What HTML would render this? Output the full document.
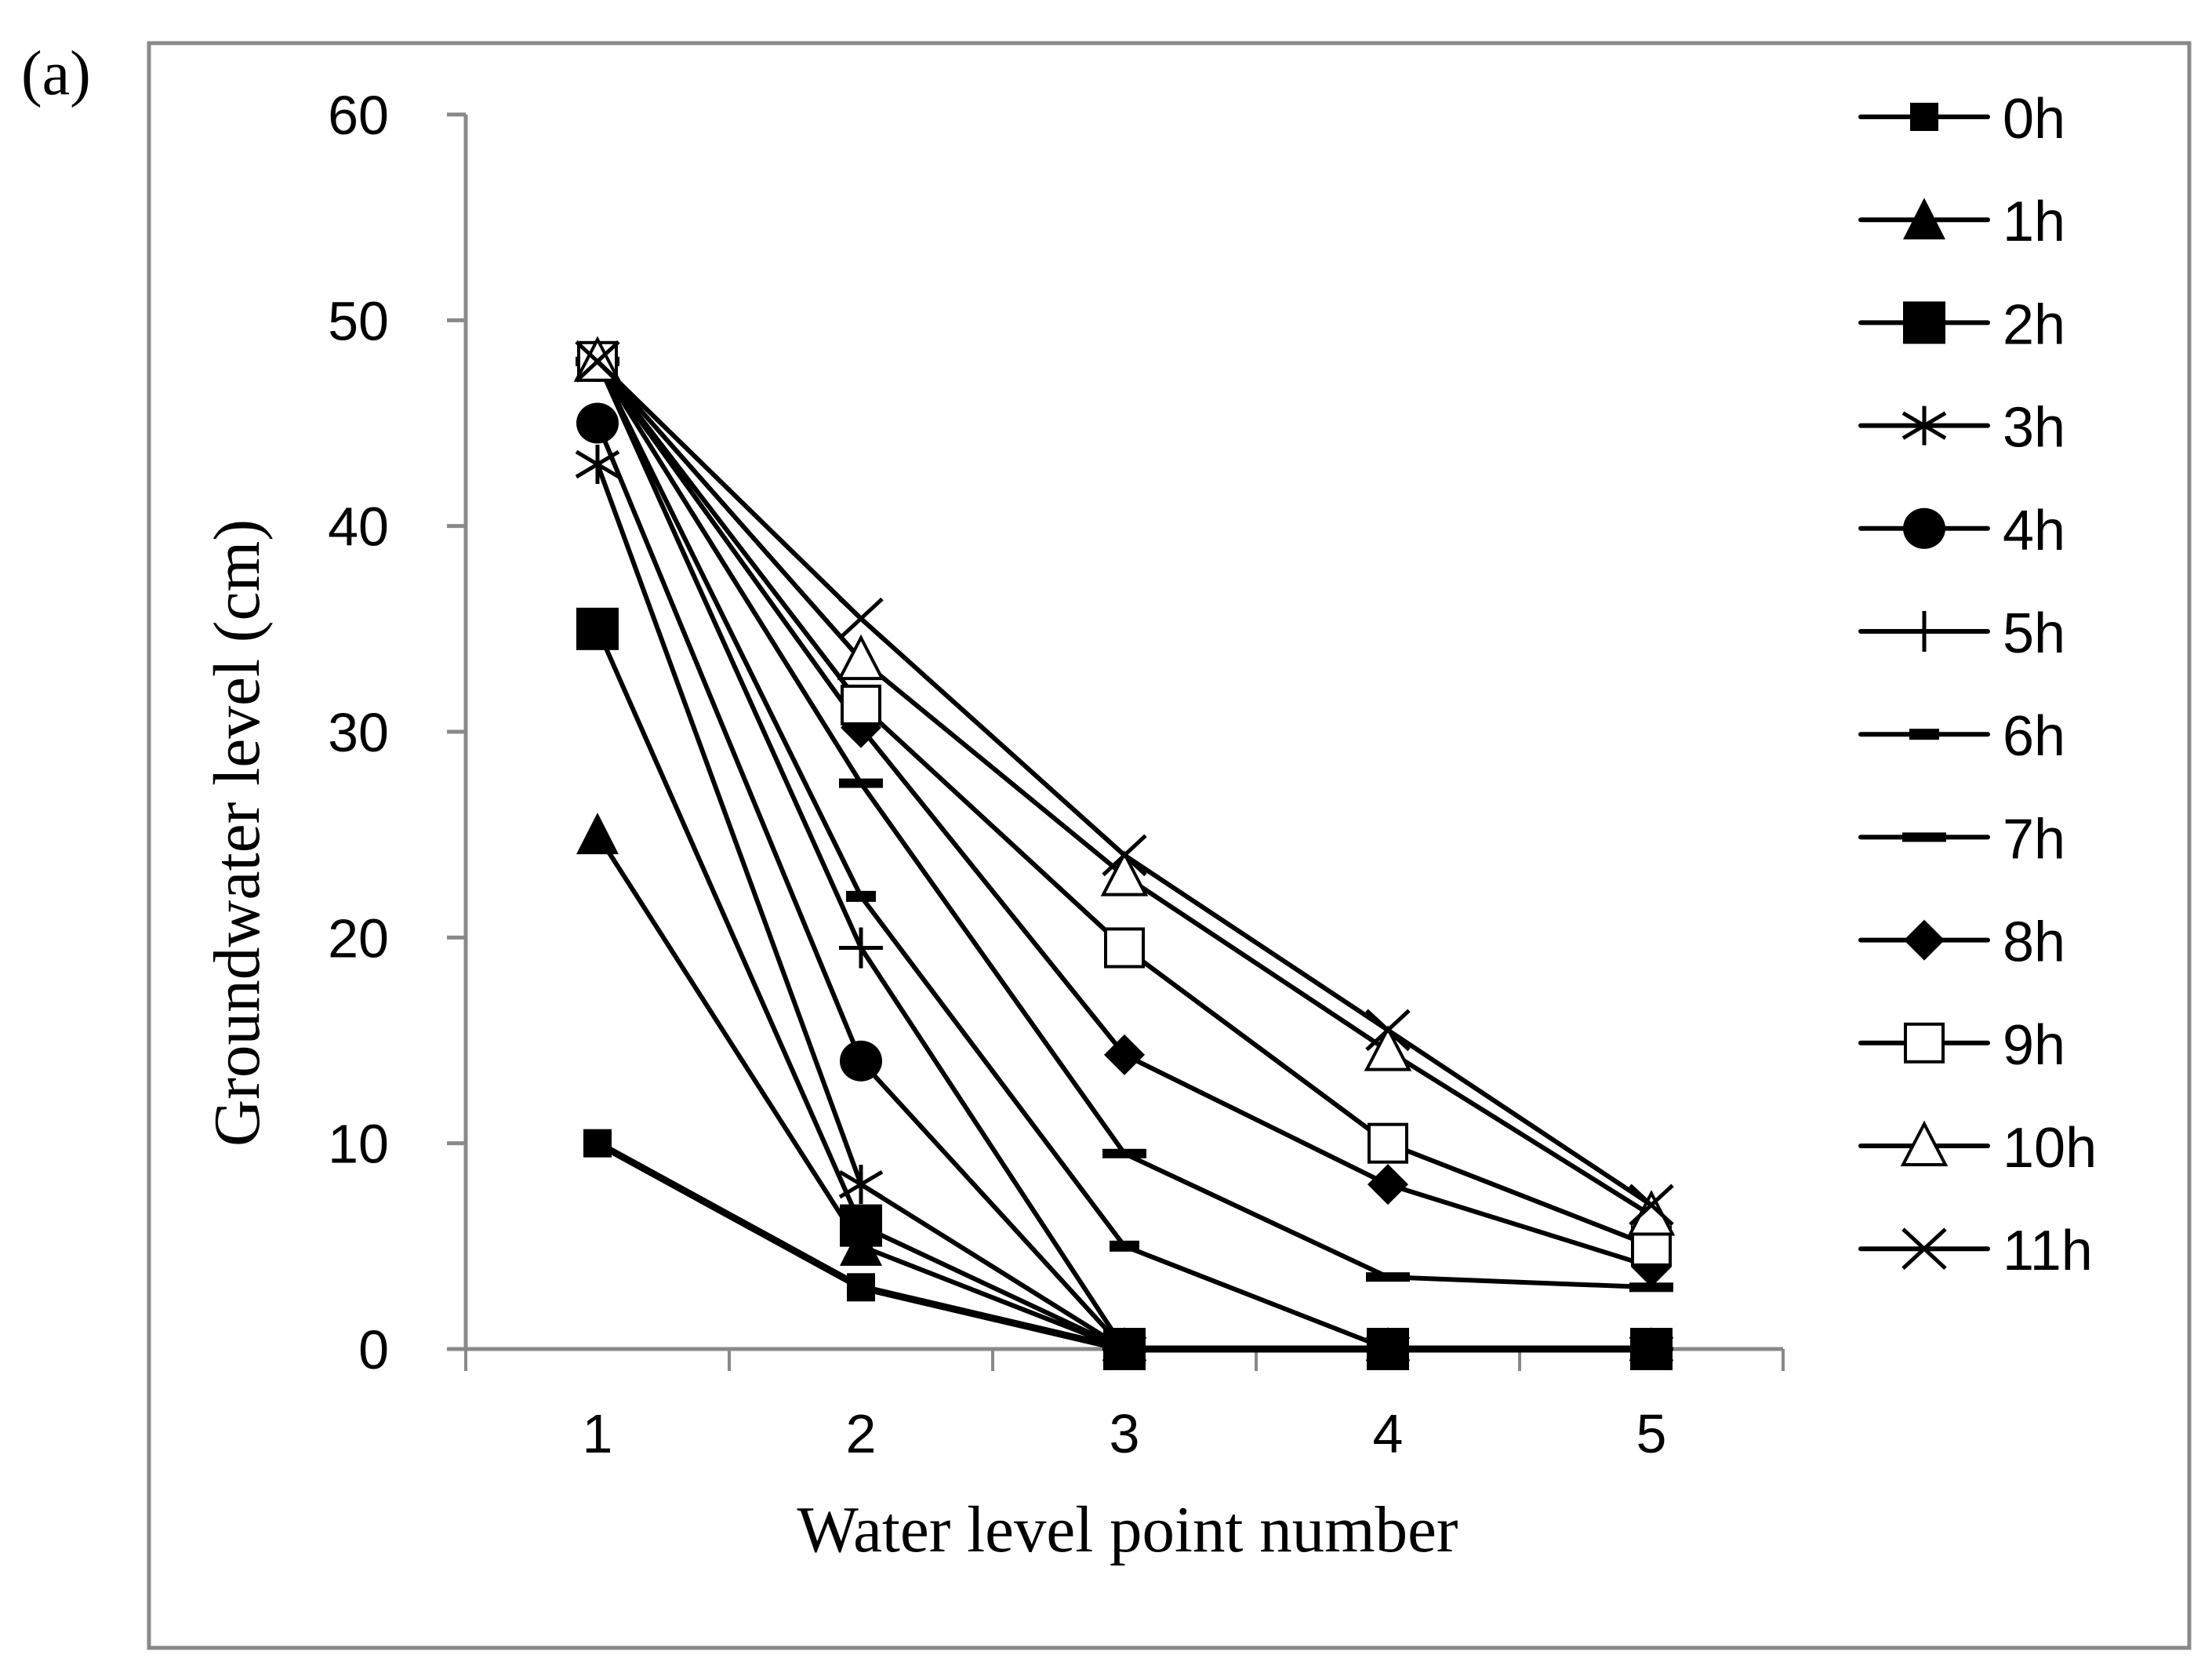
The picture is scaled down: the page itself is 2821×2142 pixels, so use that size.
<!DOCTYPE html>
<html><head><meta charset="utf-8"><style>
html,body{margin:0;padding:0;background:#fff}
svg{display:block}
</style></head><body>
<svg id="chart" width="2821" height="2142" viewBox="0 0 2821 2142" xmlns="http://www.w3.org/2000/svg">
<rect x="190" y="55" width="2602" height="2046" fill="#fff" stroke="#898989" stroke-width="5"/>
<text x="27" y="120" font-family="Liberation Serif, serif" font-size="80">(a)</text>
<text x="1438" y="1978" text-anchor="middle" textLength="843" lengthAdjust="spacingAndGlyphs" font-family="Liberation Serif, serif" font-size="84">Water level point number</text>
<text transform="translate(330,1062) rotate(-90)" text-anchor="middle" textLength="800" lengthAdjust="spacingAndGlyphs" font-family="Liberation Serif, serif" font-size="84">Groundwater level (cm)</text>
<g id="axes"></g>
<g id="series"></g>
<g id="legend"></g>
</svg>
<script>
const categories = [1, 2, 3, 4, 5];
const yTicks = [0, 10, 20, 30, 40, 50, 60];
const seriesNames = ["0h","1h","2h","3h","4h","5h","6h","7h","8h","9h","10h","11h"];
const s0h = [10, 3, 0, 0, 0];
const s1h = [25, 5, 0, 0, 0];
const s2h = [35, 6, 0, 0, 0];
const s3h = [43, 8, 0, 0, 0];
const s4h = [45, 14, 0, 0, 0];
const s5h = [48, 19.5, 0, 0, 0];
const s6h = [48, 22, 5, 0, 0];
const s7h = [48, 27.5, 9.5, 3.5, 3];
const s8h = [48, 30.2, 14.3, 8, 4];
const s9h = [48, 31.3, 19.5, 10, 5];
const s10h = [48, 33.5, 23, 14.5, 6.5];
const s11h = [48, 35.5, 24, 15.5, 7];
const markerTypes = ["sqS","tri","sqL","star","circ","plus","dashS","dashL","diam","osq","otri","x"];

const NS = "http://www.w3.org/2000/svg";
const X0 = 594, X1 = 2274, Y0 = 1720, Y60 = 146;
const bandW = (X1 - X0) / categories.length;
function xs(i){ return X0 + bandW * (i + 0.5); }
function ys(v){ return Y0 - (v / 60) * (Y0 - Y60); }
function mk(tag, attrs, parent){ const e = document.createElementNS(NS, tag); for (const k in attrs) e.setAttribute(k, attrs[k]); parent.appendChild(e); return e; }

const axes = document.getElementById("axes");
const gray = "#898989";
let yl = mk("line", {x1:X0, y1:Y60, x2:X0, y2:Y0, stroke:gray, "stroke-width":5}, axes);


yTicks.forEach(t => {
  const tk = mk("line", {x1:X0-24, y1:ys(t), x2:X0, y2:ys(t), stroke:gray, "stroke-width":5}, axes);
  
  
  const tx = mk("text", {x:496, y:ys(t)+25, "text-anchor":"end", "font-family":"Liberation Sans, sans-serif", "font-size":70}, axes);
  tx.textContent = t;
  
  
});
let xl = mk("line", {x1:X0, y1:Y0, x2:X1, y2:Y0, stroke:gray, "stroke-width":5}, axes);


for (let i = 0; i <= categories.length; i++) {
  const x = X0 + bandW * i;
  const tk = mk("line", {x1:x, y1:Y0, x2:x, y2:Y0+28, stroke:gray, "stroke-width":4}, axes);
  
  
}
categories.forEach((c, i) => {
  const tx = mk("text", {x:xs(i), y:1852, "text-anchor":"middle", "font-family":"Liberation Sans, sans-serif", "font-size":70}, axes);
  tx.textContent = c;
  
  
});

function drawMarker(type, x, y, g){
  const k = "#000";
  switch(type){
    case "sqS": return mk("rect", {x:x-18, y:y-18, width:36, height:36, fill:k}, g);
    case "sqL": return mk("rect", {x:x-27, y:y-27, width:54, height:54, fill:k}, g);
    case "tri": return mk("polygon", {points:`${x},${y-28} ${x-27},${y+25} ${x+27},${y+25}`, fill:k}, g);
    case "circ": return mk("ellipse", {cx:x, cy:y, rx:27, ry:26, fill:k}, g);
    case "diam": return mk("polygon", {points:`${x},${y-26} ${x+26},${y} ${x},${y+26} ${x-26},${y}`, fill:k}, g);
    case "dashS": return mk("rect", {x:x-19, y:y-7, width:38, height:14, fill:k}, g);
    case "dashL": return mk("rect", {x:x-28, y:y-6, width:56, height:12, fill:k}, g);
    case "osq": return mk("rect", {x:x-24, y:y-24, width:48, height:48, fill:"#fff", stroke:k, "stroke-width":4}, g);
    case "otri": return mk("polygon", {points:`${x},${y-28} ${x-27},${y+24} ${x+27},${y+24}`, fill:"#fff", stroke:k, "stroke-width":4}, g);
    case "plus": return mk("path", {d:`M${x-28},${y}H${x+28}M${x},${y-26}V${y+26}`, stroke:k, "stroke-width":5, fill:"none"}, g);
    case "x": return mk("path", {d:`M${x-27},${y-25}L${x+27},${y+25}M${x-27},${y+25}L${x+27},${y-25}`, stroke:k, "stroke-width":5, fill:"none"}, g);
    case "star": return mk("path", {d:`M${x-27},${y-16}L${x+27},${y+16}M${x-27},${y+16}L${x+27},${y-16}M${x},${y-25}V${y+25}`, stroke:k, "stroke-width":5, fill:"none"}, g);
  }
}

const allSeries = [s0h,s1h,s2h,s3h,s4h,s5h,s6h,s7h,s8h,s9h,s10h,s11h];
const sg = document.getElementById("series");
allSeries.forEach((vals, si) => {
  const g = mk("g", {}, sg);
  
  
  const pts = vals.map((v, i) => xs(i) + "," + ys(v)).join(" ");
  const pl = mk("polyline", {points:pts, fill:"none", stroke:"#000", "stroke-width": si === 0 ? 9 : 6, "stroke-linejoin":"round"}, g);
  
  
  vals.forEach((v, i) => {
    const m = drawMarker(markerTypes[si], xs(i), ys(v), g);
    
    
  });
});

const lg = document.getElementById("legend");
seriesNames.forEach((n, i) => {
  const y = 149 + i * 131.2;
  const g = mk("g", {}, lg);
  
  
  mk("line", {x1:2373, y1:y, x2:2535, y2:y, stroke:"#000", "stroke-width":6, "stroke-linecap":"round"}, g);
  drawMarker(markerTypes[i], 2454, y, g);
  const t = mk("text", {x:2554, y:y+27, "font-family":"Liberation Sans, sans-serif", "font-size":72}, g);
  t.textContent = n;
});
</script>
</body></html>
